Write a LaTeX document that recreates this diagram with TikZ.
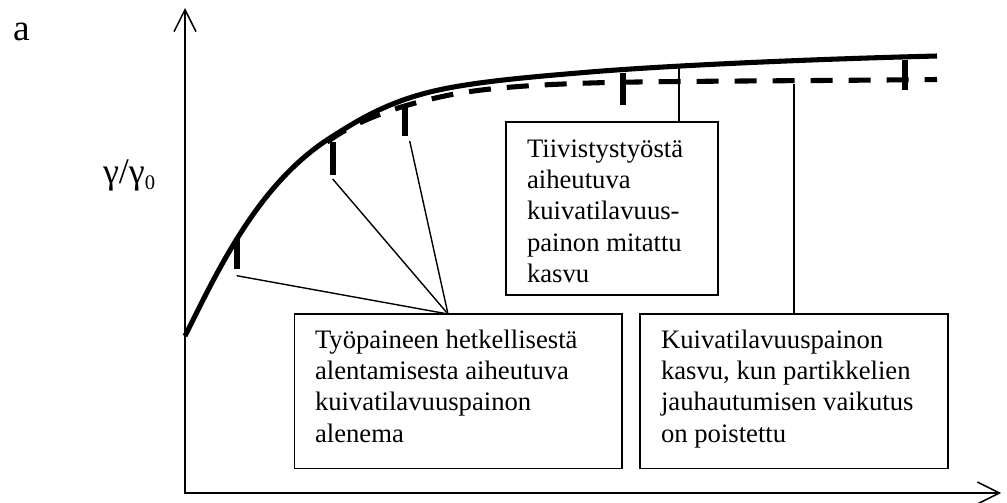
\documentclass[tikz,border=0pt]{standalone}
\usepackage{fontspec}
\setmainfont{Liberation Serif}
\usetikzlibrary{arrows.meta}
\newdimen\pxu \pxu=0.75pt
\newcommand{\boxbody}[4]{\parbox[c][#1\pxu][t]{#2\pxu}{\vspace*{#3\pxu}\hspace*{0pt}\raggedright\strut #4}}
\tikzset{
  axisline/.style={line width=1.1pt,{Straight Barb[length=16.5pt,width=16.5pt,line width=1.1pt]}-{Straight Barb[length=16.5pt,width=16.5pt,line width=1.1pt]}},
  curveline/.style={line width=3.8pt,line join=round},
  dashline/.style={line width=3.8pt,dash pattern=on 16.5pt off 12pt},
  ticker/.style={line width=4.6pt},
  leader/.style={line width=1.05pt},
  infobox/.style={draw,line width=1.05pt,anchor=north west,inner sep=0pt,outer sep=0pt,fill=white,align=left,
    font=\fontsize{20}{23.5}\selectfont},
  plain/.style={inner sep=0pt,outer sep=0pt,anchor=base west,font=\fontsize{20}{24}\selectfont}
}
\begin{document}
\begin{tikzpicture}[x=0.75pt,y=-0.75pt]
\useasboundingbox (0,0) rectangle (1007,503);
% labels
\node[plain] (lbla) at (13,41) {\fontsize{28}{30}\selectfont a};
\node[plain] (lblg) at (103,183) {{\fontsize{27}{30}\selectfont γ/γ}{\fontsize{15.5}{16}\selectfont\raisebox{-4.5pt}{0}}};
% axes
\coordinate (ytop) at (185,8);
\coordinate (orig) at (185,493);
\coordinate (xend) at (1001,493);
\draw[axisline] (ytop) -- (orig) -- (xend);
% curves
\draw[dashline] (327,142) .. controls (355,122) and (390,108) .. (440,97) .. controls (480,88) and (530,85) .. (590,83) .. controls (650,81) and (800,81) .. (937,79.5);
\draw[curveline] (185,336) .. controls (218,270) and (258,184) .. (330,138) .. controls (355,122) and (385,103) .. (430,92) .. controls (470,82) and (530,77) .. (590,72) .. controls (650,67) and (780,60) .. (937,56);
% ticks
\coordinate (t1) at (237,238); \coordinate (t1b) at (237,269);
\coordinate (t2) at (332.7,142); \coordinate (t2b) at (332.7,175);
\coordinate (t3) at (404.7,108); \coordinate (t3b) at (404.7,136);
\coordinate (t4) at (623,73); \coordinate (t4b) at (623,105);
\coordinate (t5) at (905,60); \coordinate (t5b) at (905,90);
\draw[ticker] (t1) -- (t1b);
\draw[ticker] (t2) -- (t2b);
\draw[ticker] (t3) -- (t3b);
\draw[ticker] (t4) -- (t4b);
\draw[ticker] (t5) -- (t5b);
% boxes
\node[infobox] (b1) at (506,122) {\boxbody{173}{212}{13.3}{\hspace*{21\pxu}Tiivistystyöstä\\\hspace*{21\pxu}aiheutuva\\\hspace*{21\pxu}kuivatilavuus-\\\hspace*{21\pxu}painon mitattu\\\hspace*{21\pxu}kasvu}};
\node[infobox] (b2) at (294.7,314) {\boxbody{154.7}{327.3}{12.3}{\hspace*{20.3\pxu}Työpaineen hetkellisestä\\\hspace*{20.3\pxu}alentamisesta aiheutuva\\\hspace*{20.3\pxu}kuivatilavuuspainon\\\hspace*{20.3\pxu}alenema}};
\node[infobox] (b3) at (640,314) {\boxbody{154.7}{308}{12.3}{\hspace*{21\pxu}Kuivatilavuuspainon\\\hspace*{21\pxu}kasvu, kun partikkelien\\\hspace*{21\pxu}jauhautumisen vaikutus\\\hspace*{21\pxu}on poistettu}};
% leaders
\coordinate (conv) at (448,314);
\coordinate (l1) at (236.7,275.7);
\coordinate (l2) at (332.7,179);
\coordinate (l3) at (409.7,141);
\coordinate (tl) at (679,66);
\coordinate (tr) at (794,84);
\draw[leader] (l1) -- (conv);
\draw[leader] (l2) -- (conv);
\draw[leader] (l3) -- (conv);
\draw[leader] (tl) -- (tl |- b1.north);
\draw[leader] (tr) -- (tr |- b3.north);
\end{tikzpicture}
\end{document}
